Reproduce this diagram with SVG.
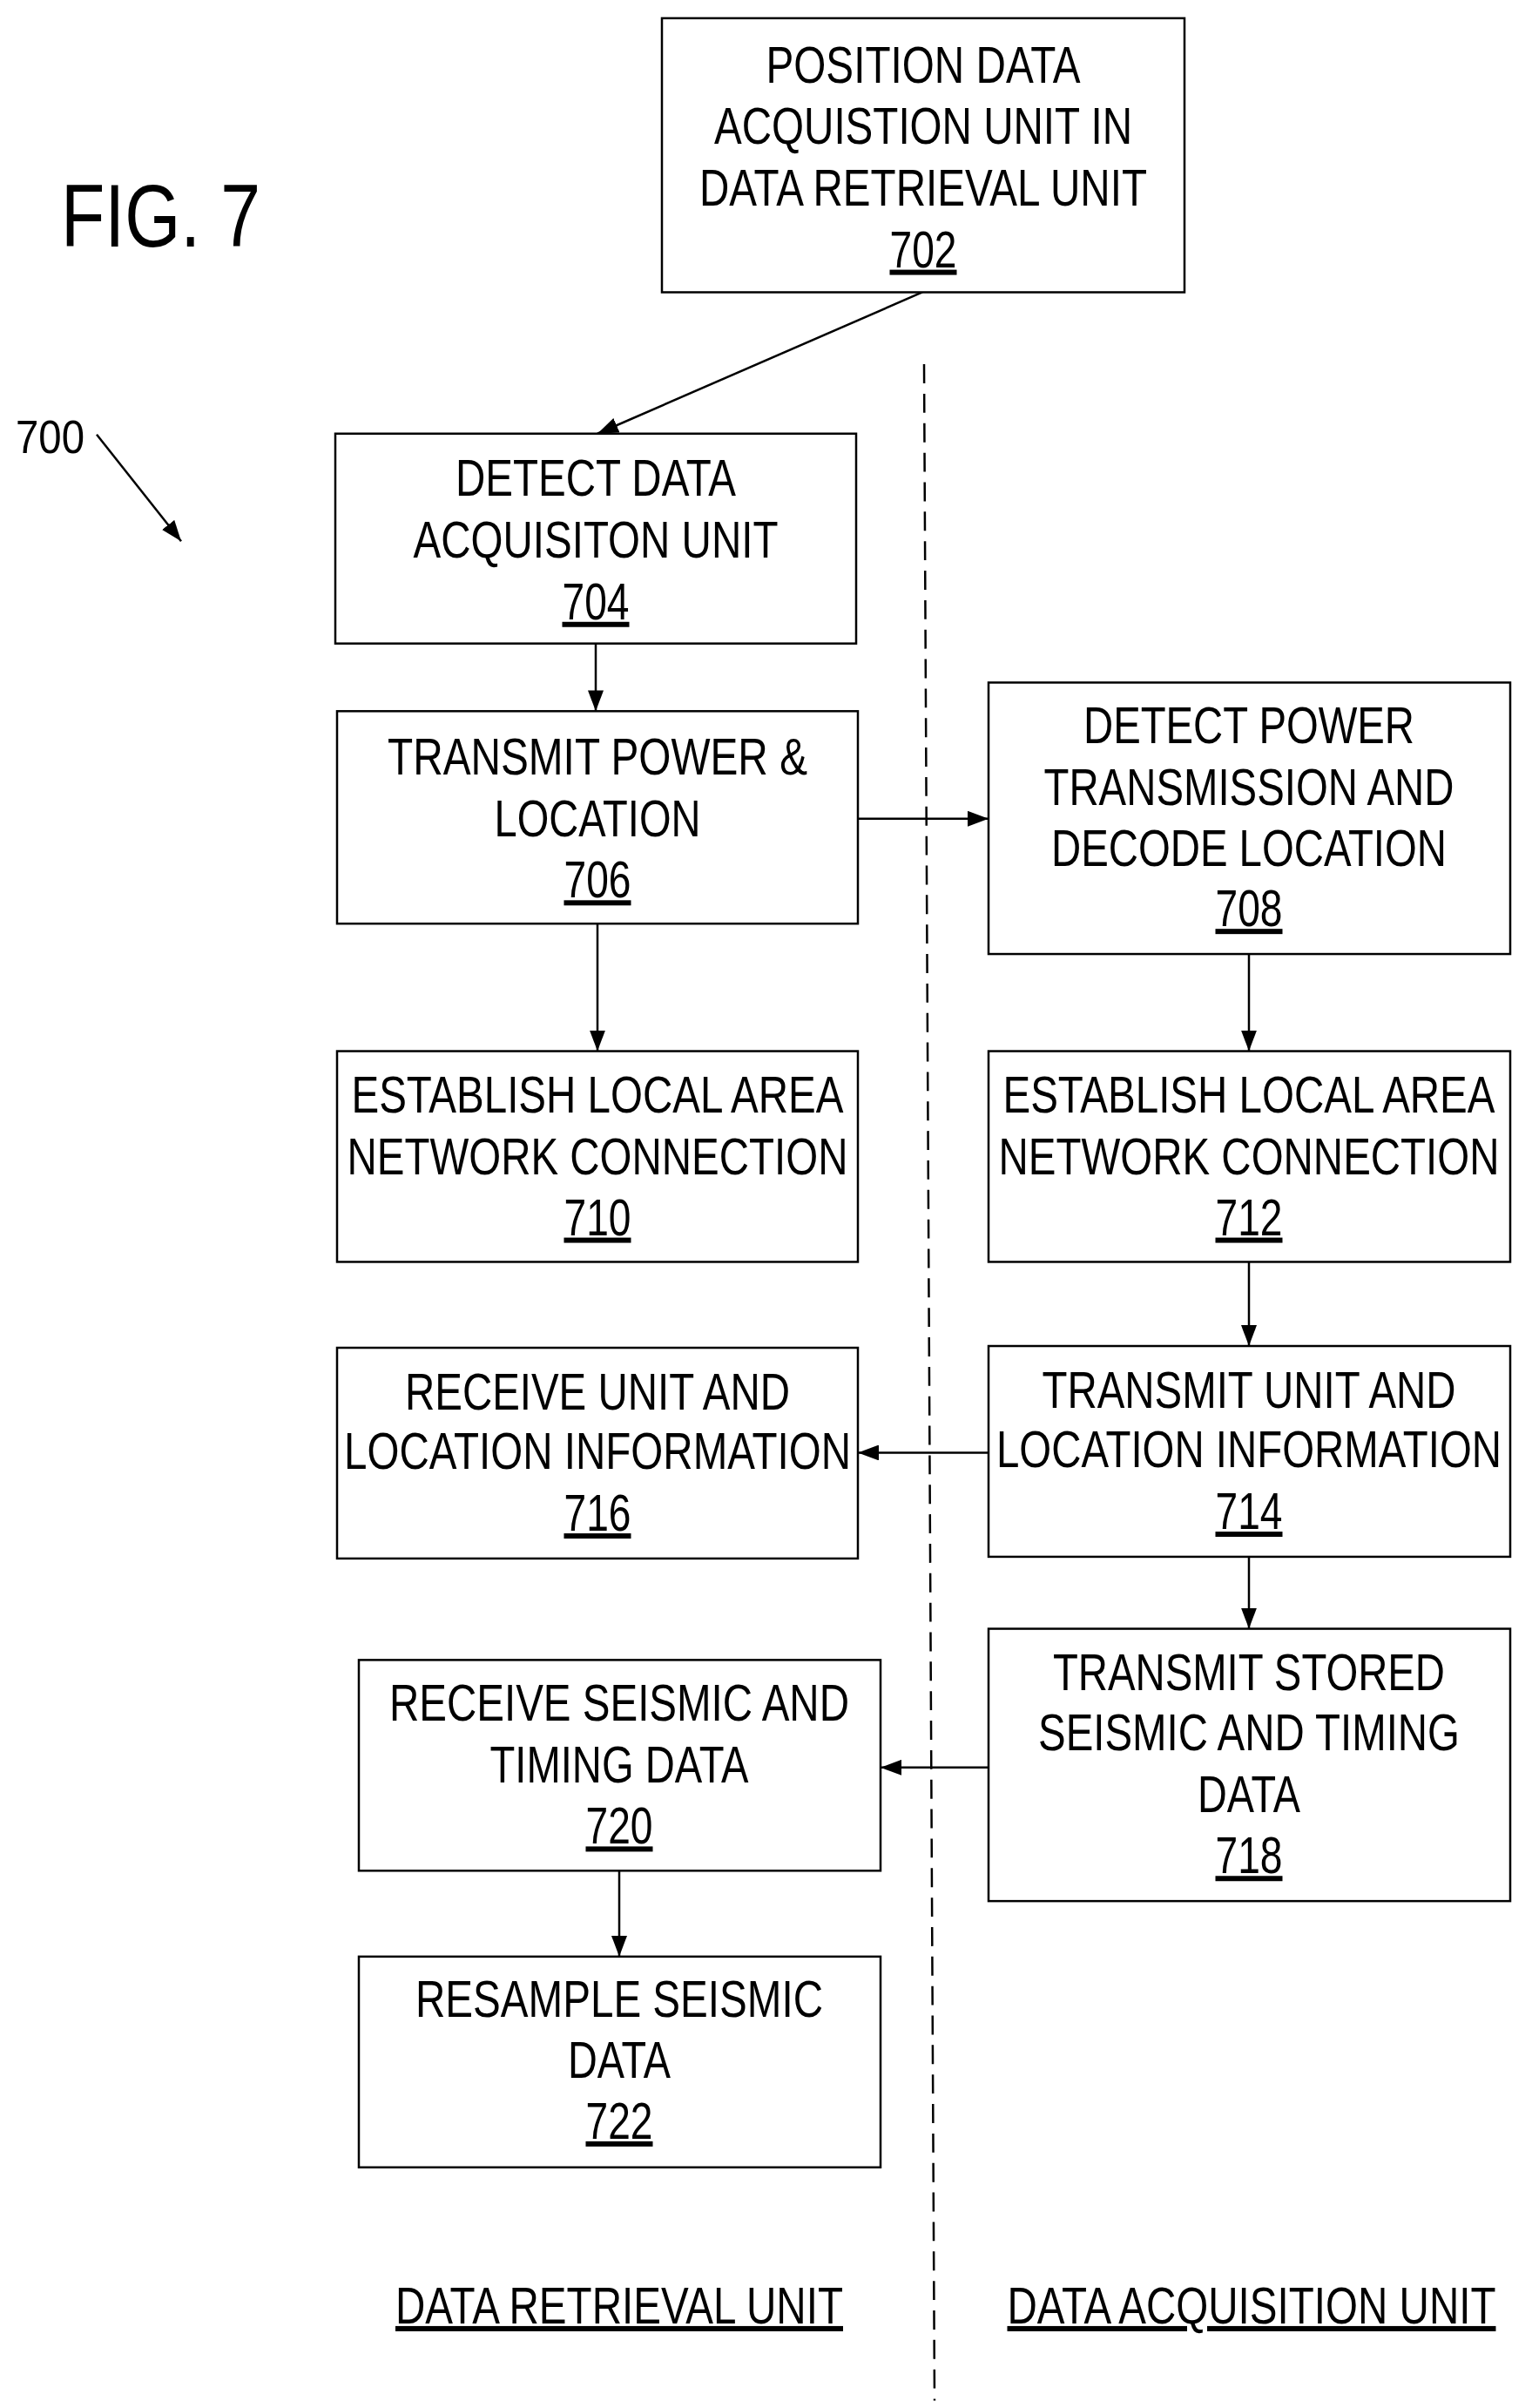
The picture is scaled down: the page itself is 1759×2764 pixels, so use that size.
<svg xmlns="http://www.w3.org/2000/svg" width="1759" height="2764" viewBox="0 0 1759 2764">
<style>
rect.b{fill:#fff;stroke:#000;stroke-width:2.5}
text{font-family:"Liberation Sans",Arial,sans-serif;font-size:60px;text-anchor:middle;fill:#000}
.u{text-decoration:underline}
.c{stroke:#000;stroke-width:2.5;fill:none}
</style>
<defs>
<marker id="A" markerWidth="24" markerHeight="18" refX="24" refY="9" orient="auto" markerUnits="userSpaceOnUse" viewBox="0 0 24 18"><path d="M0,0L24,9L0,18z" fill="#000"/></marker></defs>
<rect width="1759" height="2764" fill="#fff"/>
<g transform="scale(1,0.9955)">
<text x="70" y="284" style="font-size:103px;text-anchor:start" textLength="229" lengthAdjust="spacingAndGlyphs">FIG. 7</text>
<text x="18" y="522" style="font-size:54px;text-anchor:start" textLength="79" lengthAdjust="spacingAndGlyphs">700</text>
<line x1="111" y1="501" x2="208" y2="624" class="c" marker-end="url(#A)"/>
<path d="M1061,420 L1073,2768" stroke="#000" stroke-width="2.5" stroke-dasharray="22,12" fill="none"/>
<g id="connectors">
<line class="c" x1="1059" y1="337" x2="686" y2="500" marker-end="url(#A)"/>
<line class="c" x1="684" y1="742" x2="684" y2="820" marker-end="url(#A)"/>
<line class="c" x1="985" y1="944" x2="1135" y2="944" marker-end="url(#A)"/>
<line class="c" x1="686" y1="1065" x2="686" y2="1212" marker-end="url(#A)"/>
<line class="c" x1="1434" y1="1100" x2="1434" y2="1212" marker-end="url(#A)"/>
<line class="c" x1="1434" y1="1455" x2="1434" y2="1552" marker-end="url(#A)"/>
<line class="c" x1="1135" y1="1675" x2="985" y2="1675" marker-end="url(#A)"/>
<line class="c" x1="1434" y1="1795" x2="1434" y2="1878" marker-end="url(#A)"/>
<line class="c" x1="1135" y1="2038" x2="1011" y2="2038" marker-end="url(#A)"/>
<line class="c" x1="711" y1="2157" x2="711" y2="2256" marker-end="url(#A)"/>
</g>
<g id="n702"><rect class="b" x="760" y="21" width="600" height="316"/>
<text x="1060" y="95" textLength="361" lengthAdjust="spacingAndGlyphs">POSITION DATA</text>
<text x="1060" y="166" textLength="480" lengthAdjust="spacingAndGlyphs">ACQUISTION UNIT IN</text>
<text x="1060" y="237" textLength="514" lengthAdjust="spacingAndGlyphs">DATA RETRIEVAL UNIT</text>
<text x="1060" y="308" class="u" textLength="77" lengthAdjust="spacingAndGlyphs">702</text></g>
<g id="n704"><rect class="b" x="385" y="500" width="598" height="242"/>
<text x="684" y="572" textLength="322" lengthAdjust="spacingAndGlyphs">DETECT DATA</text>
<text x="684" y="643" textLength="419" lengthAdjust="spacingAndGlyphs">ACQUISITON UNIT</text>
<text x="684" y="714" class="u" textLength="77" lengthAdjust="spacingAndGlyphs">704</text></g>
<g id="n706"><rect class="b" x="387" y="820" width="598" height="245"/>
<text x="686" y="893" textLength="482" lengthAdjust="spacingAndGlyphs">TRANSMIT POWER &amp;</text>
<text x="686" y="964" textLength="237" lengthAdjust="spacingAndGlyphs">LOCATION</text>
<text x="686" y="1035" class="u" textLength="77" lengthAdjust="spacingAndGlyphs">706</text></g>
<g id="n708"><rect class="b" x="1135" y="787" width="599" height="313"/>
<text x="1434" y="857" textLength="380" lengthAdjust="spacingAndGlyphs">DETECT POWER</text>
<text x="1434" y="928" textLength="471" lengthAdjust="spacingAndGlyphs">TRANSMISSION AND</text>
<text x="1434" y="998" textLength="454" lengthAdjust="spacingAndGlyphs">DECODE LOCATION</text>
<text x="1434" y="1068" class="u" textLength="77" lengthAdjust="spacingAndGlyphs">708</text></g>
<g id="n710"><rect class="b" x="387" y="1212" width="598" height="243"/>
<text x="686" y="1283" textLength="565" lengthAdjust="spacingAndGlyphs">ESTABLISH LOCAL AREA</text>
<text x="686" y="1354" textLength="575" lengthAdjust="spacingAndGlyphs">NETWORK CONNECTION</text>
<text x="686" y="1424" class="u" textLength="77" lengthAdjust="spacingAndGlyphs">710</text></g>
<g id="n712"><rect class="b" x="1135" y="1212" width="599" height="243"/>
<text x="1434" y="1283" textLength="565" lengthAdjust="spacingAndGlyphs">ESTABLISH LOCAL AREA</text>
<text x="1434" y="1354" textLength="575" lengthAdjust="spacingAndGlyphs">NETWORK CONNECTION</text>
<text x="1434" y="1424" class="u" textLength="77" lengthAdjust="spacingAndGlyphs">712</text></g>
<g id="n716"><rect class="b" x="387" y="1554" width="598" height="243"/>
<text x="686" y="1625" textLength="442" lengthAdjust="spacingAndGlyphs">RECEIVE UNIT AND</text>
<text x="686" y="1694" textLength="582" lengthAdjust="spacingAndGlyphs">LOCATION INFORMATION</text>
<text x="686" y="1765" class="u" textLength="77" lengthAdjust="spacingAndGlyphs">716</text></g>
<g id="n714"><rect class="b" x="1135" y="1552" width="599" height="243"/>
<text x="1434" y="1623" textLength="475" lengthAdjust="spacingAndGlyphs">TRANSMIT UNIT AND</text>
<text x="1434" y="1692" textLength="580" lengthAdjust="spacingAndGlyphs">LOCATION INFORMATION</text>
<text x="1434" y="1763" class="u" textLength="77" lengthAdjust="spacingAndGlyphs">714</text></g>
<g id="n718"><rect class="b" x="1135" y="1878" width="599" height="314"/>
<text x="1434" y="1949" textLength="450" lengthAdjust="spacingAndGlyphs">TRANSMIT STORED</text>
<text x="1434" y="2018" textLength="484" lengthAdjust="spacingAndGlyphs">SEISMIC AND TIMING</text>
<text x="1434" y="2089" textLength="118" lengthAdjust="spacingAndGlyphs">DATA</text>
<text x="1434" y="2160" class="u" textLength="77" lengthAdjust="spacingAndGlyphs">718</text></g>
<g id="n720"><rect class="b" x="412" y="1914" width="599" height="243"/>
<text x="711" y="1984" textLength="528" lengthAdjust="spacingAndGlyphs">RECEIVE SEISMIC AND</text>
<text x="711" y="2055" textLength="297" lengthAdjust="spacingAndGlyphs">TIMING DATA</text>
<text x="711" y="2126" class="u" textLength="77" lengthAdjust="spacingAndGlyphs">720</text></g>
<g id="n722"><rect class="b" x="412" y="2256" width="599" height="243"/>
<text x="711" y="2325" textLength="468" lengthAdjust="spacingAndGlyphs">RESAMPLE SEISMIC</text>
<text x="711" y="2396" textLength="118" lengthAdjust="spacingAndGlyphs">DATA</text>
<text x="711" y="2466" class="u" textLength="77" lengthAdjust="spacingAndGlyphs">722</text></g>
<text x="711" y="2679" class="u" textLength="514" lengthAdjust="spacingAndGlyphs">DATA RETRIEVAL UNIT</text>
<text x="1437" y="2679" class="u" textLength="561" lengthAdjust="spacingAndGlyphs">DATA ACQUISITION UNIT</text>
</g>
</svg>
